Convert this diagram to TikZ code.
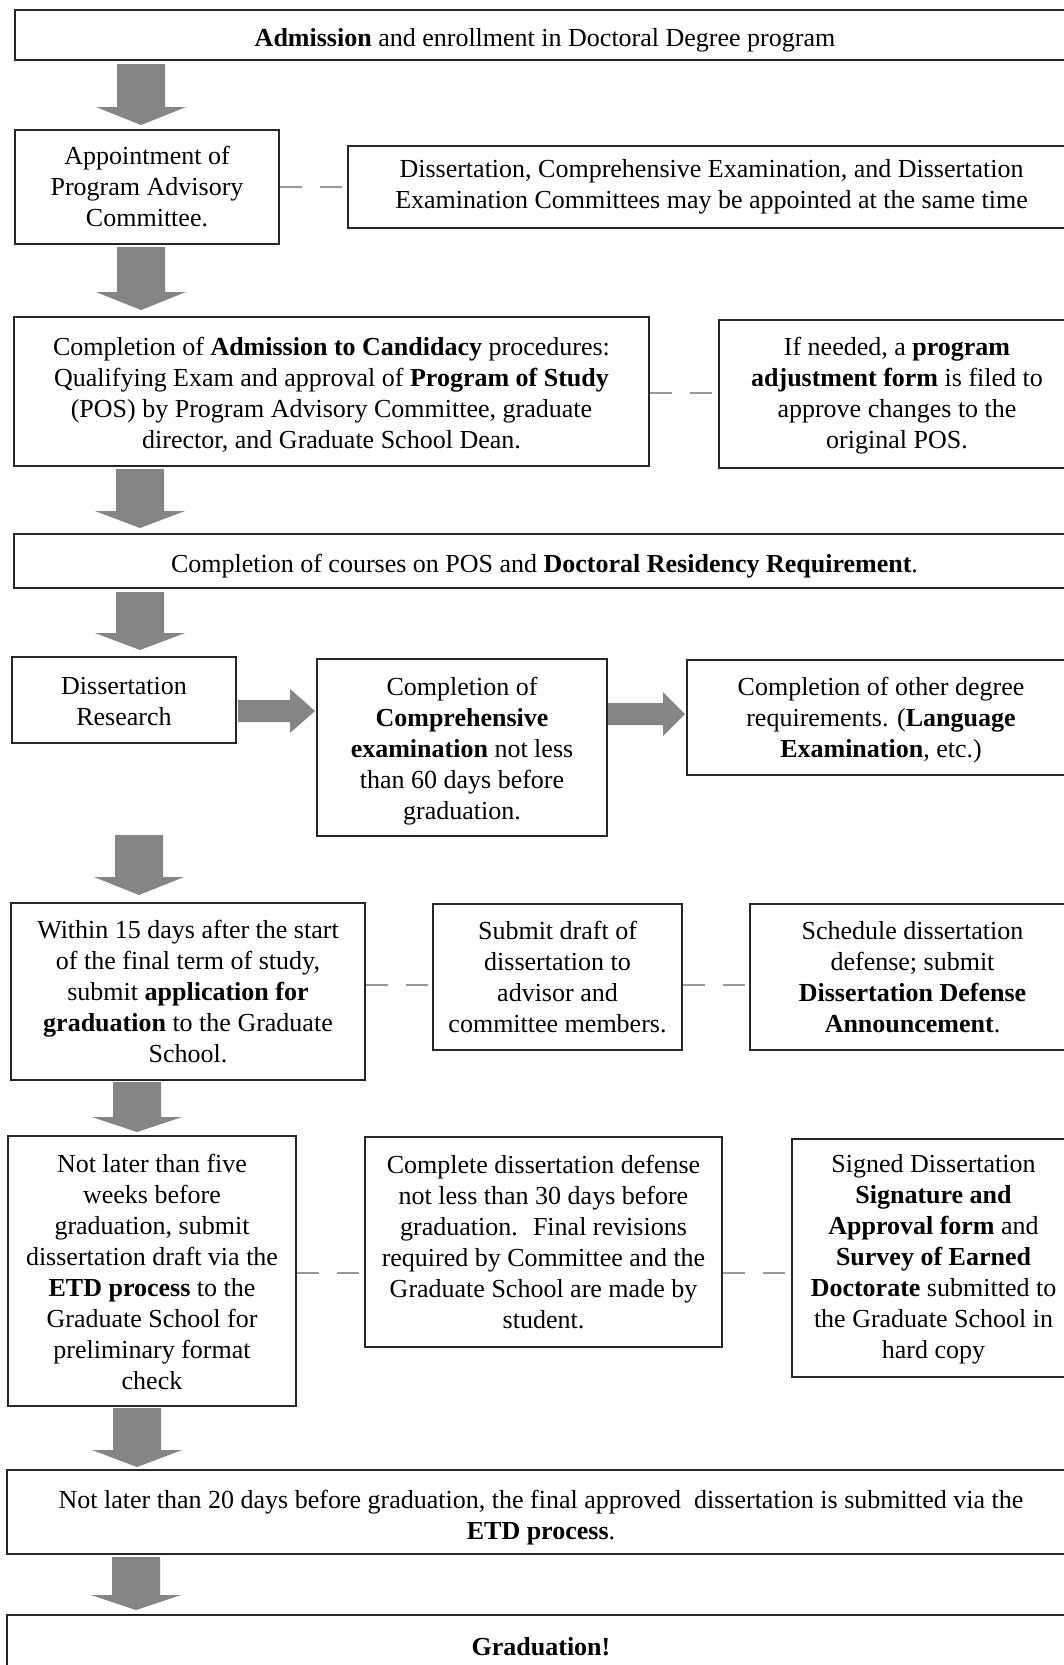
\documentclass[tikz,border=0pt]{standalone}
\usepackage{fontspec}
\setmainfont{Liberation Serif}
\begin{document}
\begin{tikzpicture}[x=0.5pt,y=-0.5pt]
\tikzset{
  box/.style={draw=black!85, line width=0.65pt, inner sep=0pt},
  txt/.style={align=center, inner sep=0pt, font=\fontsize{13pt}{15.5pt}\selectfont},
  conn/.style={draw=black!40, line width=1.3pt, dash pattern=on 11pt off 9pt},
  arrowfill/.style={fill=black!48}
}
% name, x1, y1, x2, y2, text shift down (px), text
\newcommand{\bx}[7]{\node[box, minimum width={(#4-#2)*0.5pt}, minimum height={(#5-#3)*0.5pt}] (#1) at ({(#2+#4)/2},{(#3+#5)/2}) {};
\node[txt, yshift={-(#6)*0.5pt}] (#1t) at (#1.center) {#7};}
% vertical block arrow: cx, top, headstart, tip
\newcommand{\varr}[4]{\fill[arrowfill] ({#1-24},#2) -- ({#1+24},#2) -- ({#1+24},#3) -- ({#1+45},#3) -- (#1,#4) -- ({#1-45},#3) -- ({#1-24},#3) -- cycle;}
% horizontal block arrow: left, headstart, tip, cy
\newcommand{\harr}[4]{\fill[arrowfill] (#1,{#4-11}) -- (#2,{#4-11}) -- (#2,{#4-22}) -- (#3,#4) -- (#2,{#4+22}) -- (#2,{#4+11}) -- (#1,{#4+11}) -- cycle;}
\useasboundingbox (0,0) rectangle (1064,1665);
\fill[white] (0,0) rectangle (1064,1665);
\clip (0,0) rectangle (1064,1665);

\bx{b1}{15}{10}{1075}{60}{5}{\textbf{Admission} and enrollment in Doctoral Degree program}
\bx{b2}{15}{130}{279}{244}{0}{Appointment of\\Program Advisory\\Committee.}
\bx{b2r}{348}{146}{1075}{228}{0}{Dissertation, Comprehensive Examination, and Dissertation\\Examination Committees may be appointed at the same time}
\bx{b3}{14}{317}{649}{466}{3}{Completion of \textbf{Admission to Candidacy} procedures:\\Qualifying Exam and approval of \textbf{Program of Study}\\(POS) by Program Advisory Committee, graduate\\director, and Graduate School Dean.}
\bx{b3r}{719}{320}{1075}{468}{2}{If needed, a \textbf{program}\\\textbf{adjustment form} is filed to\\approve changes to the\\original POS.}
\bx{b4}{14}{534}{1075}{588}{5}{Completion of courses on POS and \textbf{Doctoral Residency Requirement}.}
\bx{b5a}{12}{657}{236}{743}{2}{Dissertation\\Research}
\bx{b5b}{317}{659}{607}{836}{4}{Completion of\\\textbf{Comprehensive}\\\textbf{examination} not less\\than 60 days before\\graduation.}
\bx{b5c}{687}{660}{1075}{775}{3}{Completion of other degree\\requirements. (\textbf{Language}\\\textbf{Examination}, etc.)}
\bx{b6a}{11}{903}{365}{1080}{0}{Within 15 days after the start\\of the final term of study,\\submit \textbf{application for}\\\textbf{graduation} to the Graduate\\School.}
\bx{b6b}{433}{904}{682}{1050}{0}{Submit draft of\\dissertation to\\advisor and\\committee members.}
\bx{b6c}{750}{904}{1075}{1050}{0}{Schedule dissertation\\defense; submit\\\textbf{Dissertation Defense}\\\textbf{Announcement}.}
\bx{b7a}{8}{1136}{296}{1406}{1}{Not later than five\\weeks before\\graduation, submit\\dissertation draft via the\\\textbf{ETD process} to the\\Graduate School for\\preliminary format\\check}
\bx{b7b}{365}{1137}{722}{1347}{0}{Complete dissertation defense\\not less than 30 days before\\graduation.~ Final revisions\\required by Committee and the\\Graduate School are made by\\student.}
\bx{b7c}{792}{1139}{1075}{1377}{1}{Signed Dissertation\\\textbf{Signature and}\\\textbf{Approval form} and\\\textbf{Survey of Earned}\\\textbf{Doctorate} submitted to\\the Graduate School in\\hard copy}
\bx{b8}{7}{1470}{1075}{1554}{6}{Not later than 20 days before graduation, the final approved~ dissertation is submitted via the\\\textbf{ETD process}.}
\bx{b9}{7}{1615}{1075}{1678}{0}{\textbf{Graduation!}}

% dashed connectors
\draw[conn] (b2.east) -- (b2.east -| b2r.west);
\draw[conn] (b3.east |- 0,393) -- (b3r.west |- 0,393);
\draw[conn] (b6a.east |- 0,985) -- (b6b.west |- 0,985);
\draw[conn] (b6b.east |- 0,985) -- (b6c.west |- 0,985);
\draw[conn] (b7a.east |- 0,1273) -- (b7b.west |- 0,1273);
\draw[conn] (b7b.east |- 0,1273) -- (b7c.west |- 0,1273);

% block arrows
\varr{141}{64}{107}{125}
\varr{141}{247}{292}{310}
\varr{140}{469}{511}{528}
\varr{140}{592}{633}{650}
\varr{139}{835}{877}{895}
\varr{137}{1082}{1117}{1132}
\varr{137}{1408}{1450}{1467}
\varr{136}{1557}{1595}{1610}
\harr{238}{290}{315}{711}
\harr{608}{663}{685}{714}
\end{tikzpicture}
\end{document}
